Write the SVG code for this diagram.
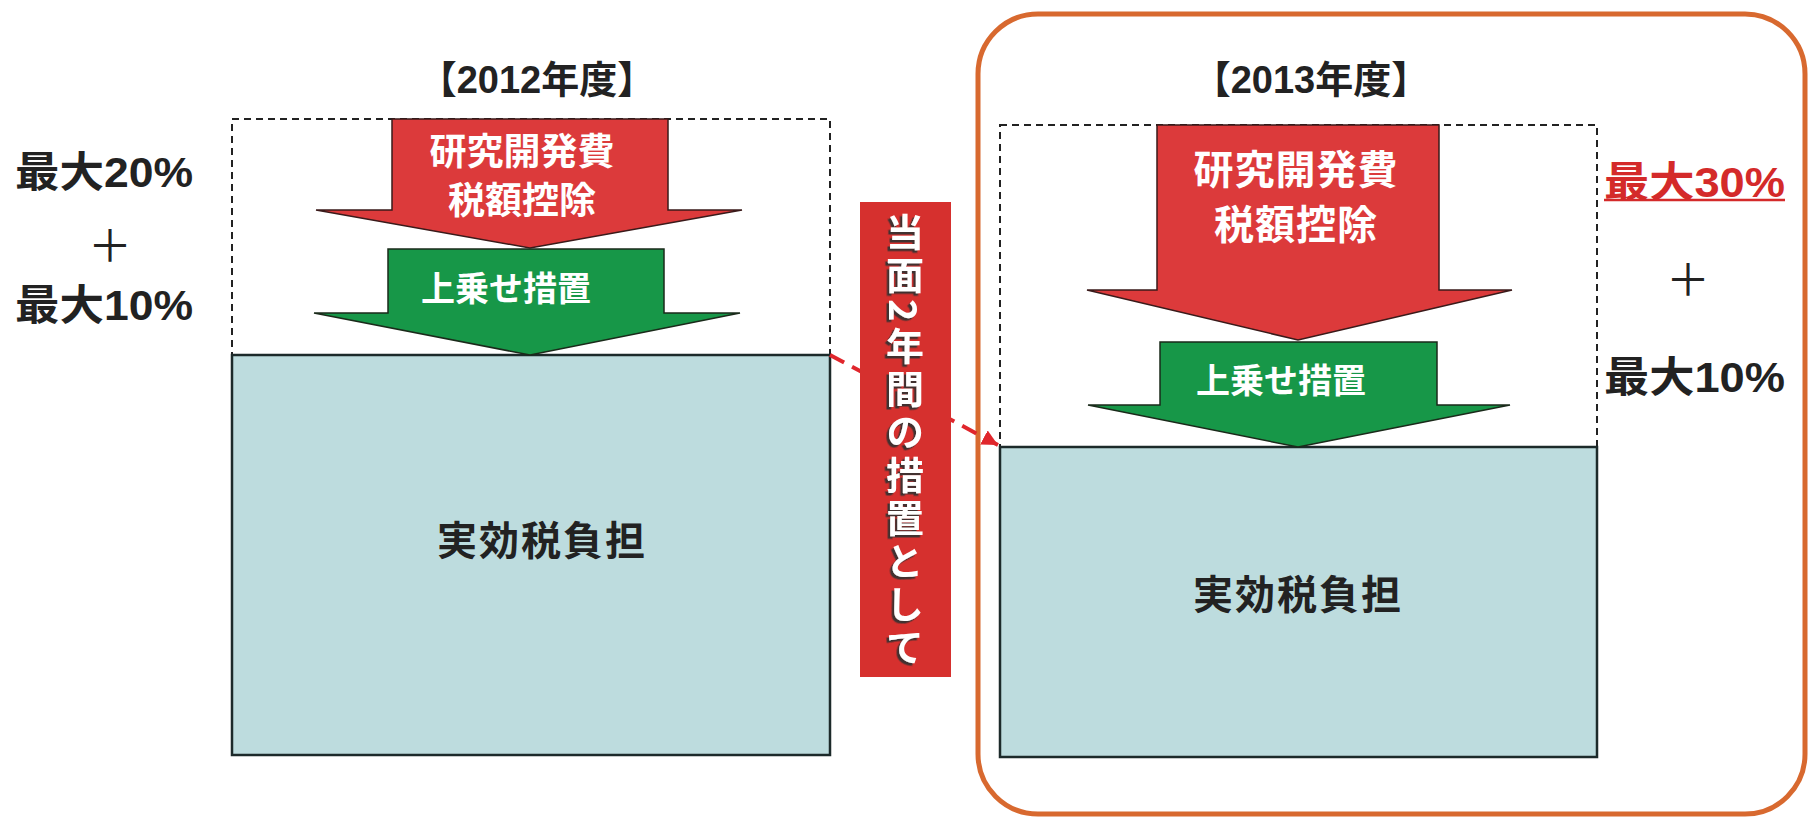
<svg xmlns="http://www.w3.org/2000/svg" width="1808" height="817" viewBox="0 0 1808 817">
  <style>
    .jp { font-family: "Noto Sans CJK JP", "Noto Sans", sans-serif; font-weight: bold; }
    .mix { font-family: "Liberation Sans", "Noto Sans CJK JP", sans-serif; font-weight: bold; }
    .dark { fill: #222222; }
    .white { fill: #ffffff; }
    .dash { fill: none; stroke: #222222; stroke-width: 2; stroke-dasharray: 7 5; }
    .base { fill: #bddcde; stroke: #1c2a2a; stroke-width: 2.5; }
    .red-arrow { fill: #dc3a3b; stroke: #3a1a1a; stroke-width: 1.5; }
    .green-arrow { fill: #179748; stroke: #1a2a1a; stroke-width: 1.5; }
    .plus { font-family: "Noto Sans CJK JP", sans-serif; font-weight: normal; fill: #222222; }
  </style>
  <defs>
    <marker id="arr" markerUnits="userSpaceOnUse" markerWidth="20" markerHeight="20" refX="16" refY="8" orient="auto">
      <path d="M0,0 L16,8 L0,16 Z" fill="#e0262c"/>
    </marker>
    <filter id="shadow" x="-20%" y="-5%" width="140%" height="110%">
      <feDropShadow dx="-2.5" dy="2.5" stdDeviation="0.6" flood-color="#333333" flood-opacity="0.9"/>
    </filter>
  </defs>
  <rect x="0" y="0" width="1808" height="817" fill="#ffffff"/>

  <g id="frame2013">
    <rect x="978" y="14" width="827" height="800" rx="60" ry="60" fill="none" stroke="#d8692f" stroke-width="5"/>
  </g>

  <g id="left-labels">
    <text class="mix dark" x="15" y="172" font-size="42" dominant-baseline="central" textLength="178" lengthAdjust="spacingAndGlyphs">最大20%</text>
    <text class="plus" x="110" y="243" font-size="44" text-anchor="middle" dominant-baseline="central">＋</text>
    <text class="mix dark" x="15" y="305" font-size="42" dominant-baseline="central" textLength="178" lengthAdjust="spacingAndGlyphs">最大10%</text>
  </g>

  <g id="y2012">
    <text class="mix dark" x="537" y="80" font-size="38" text-anchor="middle" dominant-baseline="central">【2012年度】</text>
    <rect class="dash" x="232" y="119" width="598" height="236"/>
    <rect class="base" x="232" y="355" width="598" height="400"/>
    <text class="jp dark" x="542" y="538" font-size="40" text-anchor="middle" dominant-baseline="central" letter-spacing="2">実効税負担</text>
  </g>

  <g id="rd-arrow-2012">
    <polygon class="red-arrow" points="392,119 668,119 668,210 742,210 530,248 316,210 392,210"/>
    <text class="jp white" x="522" y="149" font-size="37" text-anchor="middle" dominant-baseline="central">研究開発費</text>
    <text class="jp white" x="522" y="198" font-size="37" text-anchor="middle" dominant-baseline="central">税額控除</text>
  </g>

  <g id="extra-arrow-2012">
    <polygon class="green-arrow" points="388,249 664,249 664,313 740,313 530,355 314,313 388,313"/>
    <text class="jp white" x="506" y="286" font-size="34" text-anchor="middle" dominant-baseline="central">上乗せ措置</text>
  </g>

  <g id="y2013">
    <text class="mix dark" x="1311" y="80" font-size="38" text-anchor="middle" dominant-baseline="central">【2013年度】</text>
    <rect class="dash" x="1000" y="125" width="597" height="322"/>
    <rect class="base" x="1000" y="447" width="597" height="310"/>
    <text class="jp dark" x="1298" y="592" font-size="40" text-anchor="middle" dominant-baseline="central" letter-spacing="2">実効税負担</text>
  </g>

  <g id="rd-arrow-2013">
    <polygon class="red-arrow" points="1157,125 1439,125 1439,290 1512,290 1298,340 1087,290 1157,290"/>
    <text class="jp white" x="1296" y="167" font-size="40" text-anchor="middle" dominant-baseline="central" letter-spacing="1">研究開発費</text>
    <text class="jp white" x="1296" y="222" font-size="40" text-anchor="middle" dominant-baseline="central" letter-spacing="1">税額控除</text>
  </g>

  <g id="extra-arrow-2013">
    <polygon class="green-arrow" points="1160,342 1437,342 1437,405 1510,405 1298,447 1088,405 1160,405"/>
    <text class="jp white" x="1281" y="378" font-size="34" text-anchor="middle" dominant-baseline="central">上乗せ措置</text>
  </g>

  <g id="right-labels">
    <text class="mix" x="1604" y="182" font-size="42" fill="#d42a2a" dominant-baseline="central" textLength="181" lengthAdjust="spacingAndGlyphs">最大30%</text>
    <line x1="1604" y1="200" x2="1785" y2="200" stroke="#d42a2a" stroke-width="2.5"/>
    <text class="plus" x="1688" y="277" font-size="44" text-anchor="middle" dominant-baseline="central">＋</text>
    <text class="mix dark" x="1604" y="377" font-size="42" dominant-baseline="central" textLength="181" lengthAdjust="spacingAndGlyphs">最大10%</text>
  </g>

  <g id="connectors">
    <line x1="830" y1="355" x2="998" y2="445" stroke="#e0262c" stroke-width="4" stroke-dasharray="16 9" marker-end="url(#arr)"/>
  </g>

  <g id="transition-label">
    <rect x="860" y="202" width="91" height="475" fill="#d6302e"/>
    <text class="jp white" x="905" y="213" font-size="38" writing-mode="vertical-rl" text-orientation="upright" letter-spacing="5" filter="url(#shadow)">当面2年間の措置として</text>
  </g>
</svg>
